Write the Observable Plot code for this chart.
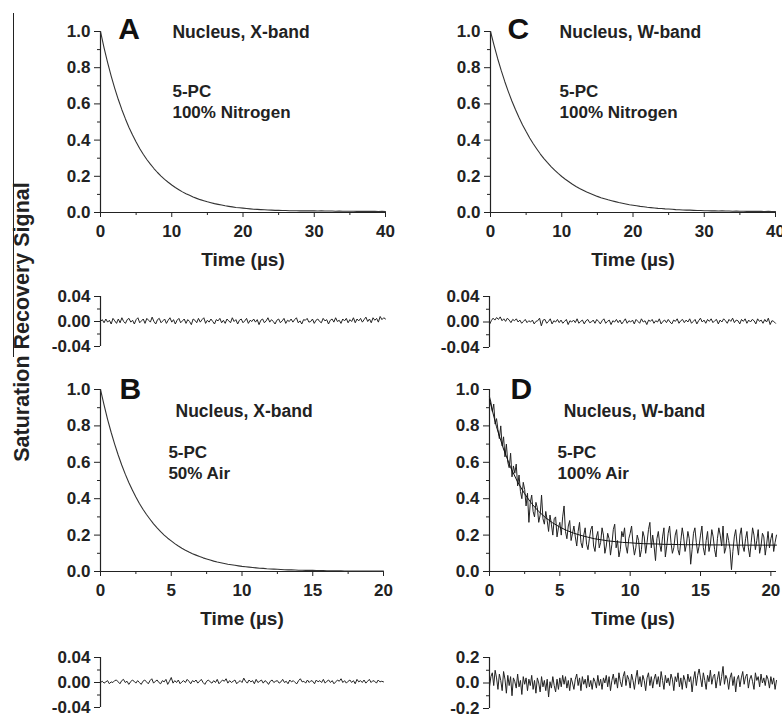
<!DOCTYPE html>
<html><head><meta charset="utf-8">
<script src="https://cdn.jsdelivr.net/npm/d3@7"></script>
<script src="https://cdn.jsdelivr.net/npm/@observablehq/plot@0.6"></script>
<style>
body{margin:0;background:#fff;}
#fig{position:relative;width:782px;height:714px;overflow:hidden;font-family:"Liberation Sans",Arial,sans-serif;background:#fff;}
#fig svg{position:absolute;left:0;top:0;}
#ytitle{position:absolute;left:22px;top:322px;transform:translate(-50%,-50%) rotate(-90deg);font-weight:bold;font-size:21.5px;white-space:nowrap;color:#222;}
#edge{position:absolute;left:13px;top:13px;width:0;height:344px;border-left:1px solid #222;}
</style></head><body>
<div id="fig"><div id="edge"></div><div id="ytitle">Saturation Recovery Signal</div></div>
<script>
// ---------- text ----------
const panelLetters = ["A", "B", "C", "D"];
const bandLabels = ["Nucleus, X-band", "Nucleus, X-band", "Nucleus, W-band", "Nucleus, W-band"];
const probeLabel = "5-PC";
const gasLabels = ["100% Nitrogen", "50% Air", "100% Nitrogen", "100% Air"];
const xTitle = "Time (\u00b5s)";
const yTitle = "Saturation Recovery Signal";

// ---------- ticks ----------
const mainYTicks = [0, 0.2, 0.4, 0.6, 0.8, 1.0];
const mainYMinor = [0.1, 0.3, 0.5, 0.7, 0.9];
const xTicks40 = [0, 10, 20, 30, 40];
const xMinor40 = [5, 15, 25, 35];
const xTicks20 = [0, 5, 10, 15, 20];
const xMinor20 = [2.5, 7.5, 12.5, 17.5];
const residTicksSmall = [-0.04, 0, 0.04];
const residMinorSmall = [-0.02, 0.02];
const residTicksD = [-0.2, 0, 0.2];
const residMinorD = [-0.1, 0.1];

// ---------- time spans (µs) ----------
const spanA = 40, spanB = 20, spanC = 40, spanD = 20.4;

// ---------- Panel A: X-band, 100% N2 (0..40 µs) ----------
const decayA = [
1.000,.910,.828,.754,.686,.624,.568,.517,.470,.428,
.389,.354,.322,.293,.267,.243,.221,.201,.183,.167,
.152,.138,.126,.114,.104,.095,.086,.078,.071,.065,
.059,.054,.049,.045,.041,.037,.034,.031,.028,.026,
.024,.022,.020,.018,.017,.016,.015,.014,.013,.012,
.012,.011,.011,.010,.010,.010,.009,.010,.009,.009,
.009,.008,.009,.008,.008,.008,.007,.008,.007,.007,
.007,.007,.006,.007,.006,.006,.006,.006,.005,.006,
.005];
const residA = [
.000,.003,-.002,.004,-.001,.002,-.004,.005,.001,-.003,.004,-.002,.006,.000,-.003,.003,.005,-.001,.002,-.004,
.003,.006,-.002,.001,.004,-.003,.005,.002,-.001,.007,.000,-.004,.003,.005,-.002,.001,.004,-.003,.002,.006,
-.001,.003,-.004,.002,.005,-.002,.001,.004,-.003,.003,.000,-.005,.004,.002,-.002,.005,-.001,.003,.006,-.003,
.002,-.001,.004,.000,-.004,.003,.001,.005,-.002,.002,-.003,.004,.001,-.002,.006,.000,.003,-.004,.002,.004,
-.002,.001,.005,-.003,.002,.000,.004,-.001,.003,-.005,.002,.004,-.002,.001,.006,-.001,.003,.000,-.004,.002,
.004,-.002,.001,.005,-.003,.002,.000,.004,-.001,.003,.006,-.002,.001,-.004,.003,.002,.005,-.001,.000,.004,
-.003,.002,.004,.000,-.002,.005,.001,.003,-.004,.002,.004,-.001,.006,.000,.002,-.003,.004,.001,.005,-.002,
.003,.000,.006,-.002,.004,.001,.005,-.001,.003,.007,.000,.004,-.002,.006,.002,.005,-.001,.008,.003,.006,
.004];

// ---------- Panel B: X-band, 50% air (0..20 µs) ----------
const decayB = [
1.000,.915,.836,.765,.700,.640,.585,.535,.489,.448,
.409,.374,.342,.313,.287,.262,.240,.219,.200,.183,
.168,.153,.140,.128,.117,.107,.098,.090,.082,.075,
.069,.063,.057,.052,.048,.044,.040,.037,.034,.031,
.028,.026,.024,.022,.020,.018,.017,.015,.014,.013,
.012,.011,.010,.009,.009,.008,.007,.007,.006,.006,
.006,.005,.005,.005,.004,.004,.004,.004,.004,.003,
.003,.003,.003,.003,.003,.003,.003,.002,.002,.002,
.002];
const residB = [
.000,.002,-.001,.001,.003,-.002,.001,.000,.003,.004,.001,-.002,.003,.005,.000,.002,-.003,.001,.004,.002,
-.001,.003,.000,-.003,.002,.004,.001,-.002,.003,.006,-.001,.002,.004,.000,-.002,.003,.001,.005,-.003,.002,
.008,-.001,.003,.000,.004,-.002,.001,.003,.000,.005,.002,-.002,.003,.001,.004,-.001,.002,.005,.000,-.003,
.002,.004,.001,-.001,.003,.000,.005,-.002,.001,.004,.002,.006,-.001,.003,.000,.002,.004,-.002,.001,.003,
.000,.007,.002,-.001,.004,.001,.003,-.002,.005,.000,.002,.004,-.001,.003,.001,-.003,.002,.004,.000,.002,
.003,-.001,.001,.005,.000,.002,-.002,.004,.001,.003,.000,-.002,.003,.006,.001,.002,-.001,.004,.000,.003,
.002,-.002,.004,.001,.003,.000,.005,-.001,.002,.004,.000,.003,-.002,.001,.004,.002,.006,.000,.003,-.001,
.002,.004,.000,.003,-.002,.005,.001,.003,.000,.004,-.001,.002,.005,.000,.003,.002,-.001,.004,.001,.002,
.001];

// ---------- Panel C: W-band, 100% N2 (0..40 µs) ----------
const decayC = [
1.000,.923,.851,.785,.724,.668,.616,.569,.525,.484,
.447,.412,.380,.351,.323,.298,.275,.254,.234,.216,
.199,.184,.170,.156,.144,.133,.123,.113,.105,.097,
.089,.082,.076,.070,.065,.060,.055,.051,.047,.043,
.040,.037,.034,.032,.029,.027,.025,.023,.022,.020,
.019,.018,.016,.015,.014,.013,.013,.012,.011,.011,
.010,.010,.009,.009,.008,.009,.008,.008,.007,.008,
.007,.007,.006,.007,.006,.006,.006,.005,.006,.005,
.005];
const residC = [
-.004,.002,.006,.003,.007,.004,.008,.002,.005,.001,.006,.003,-.001,.004,.002,.005,.000,.003,-.002,.001,
.004,-.001,.002,.000,.003,-.003,.001,.002,.006,-.006,.003,.004,-.002,.001,.005,-.003,.002,.000,.004,-.001,
.003,-.002,.001,.004,-.004,.002,.000,.003,-.001,.005,-.002,.001,.003,-.003,.002,.004,-.001,.000,.003,-.002,
.004,.001,-.003,.002,.005,-.002,.001,.003,-.004,.002,.000,.004,-.001,.003,-.003,.001,.005,-.002,.002,.000,
.003,-.003,.004,.001,-.002,.005,.000,.002,-.004,.003,.001,.004,-.002,.002,.000,.005,-.003,.001,.003,-.001,
.004,.000,-.003,.003,.001,.005,-.002,.002,.004,-.001,.003,.000,.005,-.002,.001,.004,-.003,.002,.006,.000,
.003,-.002,.004,.001,.005,-.001,.002,.004,-.003,.003,.000,.005,.002,-.002,.004,.001,.006,-.001,.003,.002,
-.003,.004,.001,.005,-.002,.003,.000,.004,.002,-.003,.005,.001,.003,-.002,.004,.000,.006,-.004,.002,.001,
-.002];

// ---------- Panel D: W-band, 100% air (0..20.4 µs) ----------
const dataD = [
.96,.93,.88,.92,.81,.84,.78,.73,.80,.69,
.74,.63,.70,.60,.57,.65,.52,.58,.54,.59,
.47,.53,.44,.40,.49,.45,.36,.43,.27,.38,
.42,.33,.30,.38,.35,.27,.31,.42,.29,.26,
.33,.28,.22,.31,.26,.20,.29,.30,.19,.24,
.27,.20,.30,.36,.22,.18,.25,.28,.17,.21,
.25,.19,.14,.22,.27,.16,.13,.20,.24,.15,
.12,.18,.23,.25,.14,.11,.19,.22,.13,.16,
.24,.20,.10,.14,.21,.18,.09,.15,.23,.26,
.13,.17,.08,.12,.22,.19,.24,.14,.10,.18,
.21,.25,.15,.09,.13,.20,.17,.08,.12,.22,
.19,.10,.16,.23,.27,.13,.20,.14,.06,.18,
.22,.15,.11,.19,.24,.08,.14,.21,.25,.16,
.10,.13,.20,.23,.12,.09,.17,.24,.19,.11,
.15,.22,.18,.04,.12,.21,.24,.16,.10,.14,
.20,.25,.13,.09,.17,.22,.11,.15,.23,.19,
.12,.08,.18,.24,.20,.14,.25,.10,.13,.21,
.17,.12,.01,.11,.19,.23,.15,.09,.20,.24,
.14,.11,.18,.22,.13,.08,.16,.24,.20,.12,
.17,.23,.10,.14,.21,.19,.09,.15,.22,.13,
.18,.21,.11,.16,.20];
const fitD = [
.945,.795,.673,.573,.493,.428,.374,.331,.296,.268,
.245,.226,.211,.199,.189,.180,.174,.168,.164,.160,
.158,.155,.153,.152,.151,.149,.149,.148,.147,.147,
.147,.146,.146,.146,.146,.145,.145,.145,.145,.145,
.145,.145];
const residD = [
-.03,.05,.08,-.02,.10,.04,-.05,.07,.02,-.06,
.09,.03,-.08,.06,-.02,.05,-.10,.04,.01,-.04,
.07,-.03,.02,-.09,.05,-.01,.04,-.06,.03,-.02,
.06,-.05,.02,-.08,.04,.00,-.07,.05,-.03,.02,
-.06,.03,-.11,.01,-.04,.05,-.02,-.07,.03,-.05,
.04,-.03,.06,-.01,.05,-.04,.02,-.06,.04,.00,
-.05,.03,.07,-.02,.04,-.06,.05,-.01,.03,-.04,
.06,-.03,.02,-.05,.04,.01,-.04,.06,-.02,.03,
-.05,.04,.00,.06,-.03,.05,-.06,.02,.07,-.01,
.04,-.04,.08,.01,-.03,.05,.09,-.02,.06,.03,
-.04,.07,.02,-.05,.04,.10,-.01,.05,-.03,.06,
.02,-.06,.04,.08,-.02,.05,-.04,.03,.07,-.01,
.05,-.03,.09,.02,-.05,.06,.00,.04,-.02,.07,
.03,-.06,.05,.01,.08,-.03,.04,-.05,.06,.02,
-.04,.07,.01,.05,-.07,.03,.09,-.02,.06,.11,
.04,-.03,.08,.02,-.05,.06,.01,.10,-.01,.05,
.07,-.04,.03,.09,-.02,.05,.13,-.01,.06,.03,
-.05,.04,.08,-.02,.05,-.07,.03,.06,-.03,.04,
.09,-.01,.05,.07,-.04,.03,.06,.01,-.05,.08,
.02,.05,-.03,.07,.00,.04,-.02,.06,.03,-.04,
.05,-.01,.04,-.05,.02];

// evenly sampled series -> table
const table = (values, span) => values.map((v, i) => ({t: i * span / (values.length - 1), v}));

const W = 782, H = 714;
const FONT = "Liberation Sans, Arial, Helvetica, sans-serif";
const INK = "#222";
const fig = document.getElementById("fig");
const blank = () => "";

function frameOpts(x0, x1, y0, y1) {
  return {width: W, height: H, marginLeft: x0, marginRight: W - x1, marginTop: y0, marginBottom: H - y1,
    style: {background: "transparent", fontFamily: FONT, color: INK, overflow: "visible"}};
}

function mainPanel(k, x0, x1, y0, y1, span, xt, xm, lines, pos) {
  const marks = [
    Plot.ruleY([0], {stroke: INK, strokeWidth: 1.2}),
    Plot.ruleX([0], {stroke: INK, strokeWidth: 1.2}),
    Plot.axisY(mainYTicks, {tickSize: 6, tickPadding: 4, tickFormat: d => d.toFixed(1), label: null, fontSize: 17, fontWeight: "bold", stroke: INK}),
    Plot.axisY(mainYMinor, {tickSize: 3, tickFormat: blank, label: null, stroke: INK}),
    Plot.axisX(xt, {tickSize: 5, tickPadding: 7, label: null, fontSize: 17, fontWeight: "bold", stroke: INK}),
    Plot.axisX(xm, {tickSize: 3, tickFormat: blank, label: null, stroke: INK}),
    ...lines,
    Plot.text([panelLetters[k]], {x: pos[0][0], y: pos[0][1], text: d => d, fontSize: 30, fontWeight: "bold", textAnchor: "start", lineAnchor: "middle", fill: "#111"}),
    Plot.text([bandLabels[k]], {x: pos[1][0], y: pos[1][1], text: d => d, fontSize: 17.5, fontWeight: "bold", textAnchor: "start", lineAnchor: "middle", fill: INK}),
    Plot.text([probeLabel], {x: pos[2][0], y: pos[2][1], text: d => d, fontSize: 17, fontWeight: "bold", textAnchor: "start", lineAnchor: "middle", fill: INK}),
    Plot.text([gasLabels[k]], {x: pos[2][0], y: pos[2][1] - 0.115, text: d => d, fontSize: 17, fontWeight: "bold", textAnchor: "start", lineAnchor: "middle", fill: INK}),
    Plot.text([xTitle], {frameAnchor: "bottom", dy: 47, text: d => d, fontSize: 19, fontWeight: "bold", lineAnchor: "middle", fill: INK})
  ];
  const svg = Plot.plot({...frameOpts(x0, x1, y0, y1),
    x: {domain: [0, span], axis: null}, y: {domain: [0, 1], axis: null}, marks});
  fig.appendChild(svg);
}

function residPanel(x0, x1, y0, y1, span, lim, ticks, minor, fmt, values) {
  const marks = [
    Plot.ruleX([0], {stroke: INK, strokeWidth: 1.2}),
    Plot.axisY(ticks, {tickSize: 6, tickPadding: 4, tickFormat: fmt, label: null, fontSize: 17, fontWeight: "bold", stroke: INK}),
    Plot.axisY(minor, {tickSize: 3, tickFormat: blank, label: null, stroke: INK}),
    Plot.line(table(values, span), {x: "t", y: "v", stroke: INK, strokeWidth: 1})
  ];
  const svg = Plot.plot({...frameOpts(x0, x1, y0, y1),
    x: {domain: [0, span], axis: null}, y: {domain: [-lim, lim], axis: null}, marks});
  fig.appendChild(svg);
}

const thin = (vals, span, color, w) => Plot.line(table(vals, span), {x: "t", y: "v", stroke: color, strokeWidth: w});

// A
mainPanel(0, 100, 385, 31, 212, spanA, xTicks40, xMinor40, [thin(decayA, spanA, "#333", 1.1)],
  [[2.5, 1.01], [10.1, 0.995], [10.1, 0.668]]);
residPanel(100, 385, 296, 346, spanA, 0.04, residTicksSmall, residMinorSmall, d => d.toFixed(2), residA);
// C
mainPanel(2, 490, 775, 31, 212, spanC, xTicks40, xMinor40, [thin(decayC, spanC, "#333", 1.1)],
  [[2.4, 1.01], [9.7, 0.995], [9.7, 0.668]]);
residPanel(489, 775, 296, 347, spanC, 0.04, residTicksSmall, residMinorSmall, d => d.toFixed(2), residC);
// B
mainPanel(1, 100, 383, 389, 571, spanB, xTicks20, xMinor20, [thin(decayB, spanB, "#333", 1.1)],
  [[1.35, 1.0], [5.3, 0.879], [4.8, 0.654]]);
residPanel(100, 383, 657, 707, spanB, 0.04, residTicksSmall, residMinorSmall, d => d.toFixed(2), residB);
// D
mainPanel(3, 489, 776, 389, 571, spanD, xTicks20, xMinor20,
  [thin(dataD, spanD, "#222", 1), thin(fitD, spanD, "#111", 1)],
  [[1.5, 1.0], [5.27, 0.879], [4.84, 0.654]]);
residPanel(489, 776, 657, 708, spanD, 0.2, residTicksD, residMinorD, d => d.toFixed(1), residD);
</script>
</body></html>
